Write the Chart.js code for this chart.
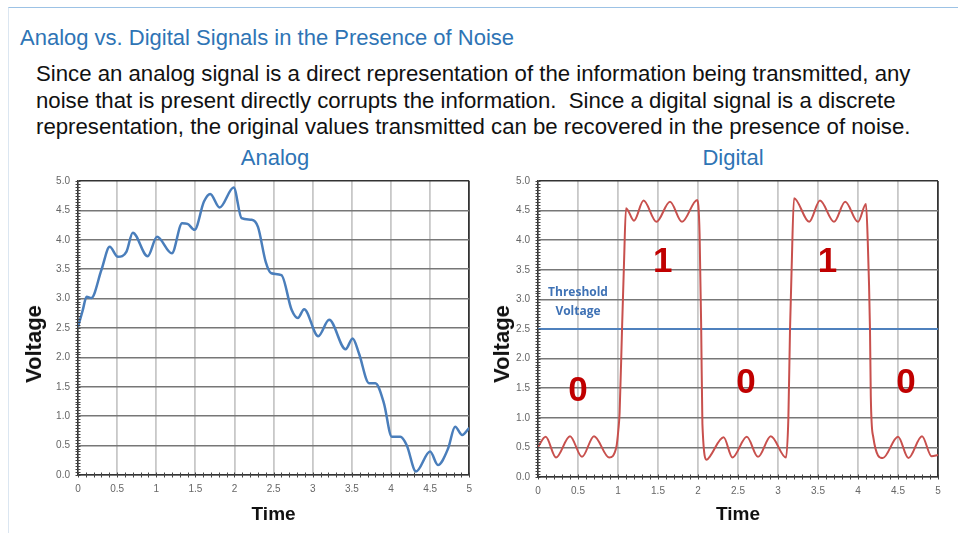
<!DOCTYPE html>
<html lang="en">
<head>
<meta charset="UTF-8">
<title>Analog vs. Digital Signals in the Presence of Noise</title>
<style>
  body { margin: 0; width: 958px; height: 533px; background: #fff; font-family: Arial, "Liberation Sans", sans-serif; overflow: hidden; position: relative; }
  .frame { position: absolute; left: 8px; top: 7px; right: 0; bottom: 0; border-top: 1px solid #9cc2e5; border-left: 1px solid #dbe6f1; }
  h1 { position: absolute; left: 20px; top: 25px; margin: 0; font-size: 22px; font-weight: normal; color: #2e74b5; white-space: nowrap; }
  .text { position: absolute; left: 36px; top: 61px; margin: 0; font-size: 22.2px; line-height: 26.5px; color: #111; white-space: nowrap; }
  .ctitle { position: absolute; top: 145px; font-size: 22px; color: #2e74b5; transform: translateX(-50%); }
  .ylab { position: absolute; top: 344px; font-size: 22px; font-weight: bold; color: #111; transform: translate(-50%, -50%) rotate(-90deg); white-space: nowrap; }
  canvas { position: absolute; }
</style>
</head>
<body>
<div class="frame"></div>
<h1>Analog vs. Digital Signals in the Presence of Noise</h1>
<p class="text">Since an analog signal is a direct representation of the information being transmitted, any<br>noise that is present directly corrupts the information.&nbsp; Since a digital signal is a discrete<br>representation, the original values transmitted can be recovered in the presence of noise.</p>
<div class="ctitle" style="left:275px">Analog</div>
<div class="ctitle" style="left:733px">Digital</div>
<canvas id="analog" width="480" height="393" style="left:0;top:140px"></canvas>
<canvas id="digital" width="478" height="393" style="left:480px;top:140px"></canvas>
<div class="ylab" style="left:34px">Voltage</div>
<div class="ylab" style="left:502px">Voltage</div>

<script src="https://cdn.jsdelivr.net/npm/chart.js"></script>
<script>
// values
const analogTime = [0, 0.06, 0.11, 0.17, 0.30, 0.405, 0.51, 0.62, 0.70, 0.89, 1.01, 1.20, 1.33, 1.40, 1.49, 1.61, 1.69, 1.81, 1.99, 2.09, 2.22, 2.30, 2.40, 2.47, 2.60, 2.73, 2.81, 2.89, 3.07, 3.21, 3.42, 3.51, 3.59, 3.72, 3.80, 3.91, 4.01, 4.12, 4.20, 4.32, 4.50, 4.60, 4.73, 4.82, 4.91, 5.0];
const analogVolt = [2.52, 2.80, 3.03, 3.01, 3.49, 3.88, 3.71, 3.80, 4.12, 3.72, 4.05, 3.77, 4.28, 4.27, 4.17, 4.65, 4.78, 4.55, 4.89, 4.37, 4.34, 4.22, 3.62, 3.43, 3.40, 2.81, 2.67, 2.82, 2.36, 2.64, 2.14, 2.32, 2.07, 1.56, 1.56, 1.22, 0.65, 0.65, 0.51, 0.06, 0.40, 0.17, 0.45, 0.82, 0.68, 0.80];

const digitalTime = [0, 0.096, 0.225, 0.40, 0.55, 0.70, 0.89, 0.98, 1.004, 1.02, 1.05, 1.075, 1.10, 1.20, 1.32, 1.48, 1.65, 1.80, 1.99, 2.02, 2.04, 2.055, 2.11, 2.15, 2.32, 2.43, 2.61, 2.75, 2.91, 3.10, 3.13, 3.15, 3.17, 3.20, 3.39, 3.525, 3.70, 3.84, 4.00, 4.10, 4.12, 4.15, 4.16, 4.19, 4.31, 4.50, 4.63, 4.80, 4.92, 5.0];
const digitalVolt = [0.51, 0.68, 0.33, 0.69, 0.34, 0.69, 0.33, 0.51, 0.79, 1.08, 2.48, 3.61, 4.54, 4.33, 4.67, 4.31, 4.65, 4.31, 4.68, 4.10, 2.50, 0.90, 0.29, 0.35, 0.67, 0.33, 0.68, 0.34, 0.69, 0.33, 1.02, 2.48, 3.50, 4.71, 4.31, 4.67, 4.31, 4.65, 4.31, 4.61, 4.06, 2.48, 1.36, 0.68, 0.32, 0.68, 0.32, 0.69, 0.35, 0.37];

const thresholdTime = [0, 5];
const thresholdVolt = [2.5, 2.5];

const bitText = ['0', '1', '0', '1', '0'];
const bitTime = [0.5, 1.56, 2.6, 3.62, 4.6];
const bitVolt = [1.45, 3.63, 1.59, 3.63, 1.59];

const thresholdText = ['Threshold', 'Voltage'];
const thresholdTextTime = 0.5;
const thresholdTextVolt = [3.12, 2.80];

const xTicks = [0, 0.5, 1, 1.5, 2, 2.5, 3, 3.5, 4, 4.5, 5];
const yTicks = [0, 0.5, 1, 1.5, 2, 2.5, 3, 3.5, 4, 4.5, 5];

const toPoints = (xs, ys) => xs.map((x, i) => ({ x: x, y: ys[i] }));

// small ticks along the left and bottom axes
const minorTicks = {
    id: 'minorTicks',
    afterDraw(chart) {
        const { ctx, chartArea, scales: { x, y } } = chart;
        ctx.save();
        ctx.strokeStyle = '#444';
        ctx.lineWidth = 1;
        ctx.beginPath();
        for (let i = 0; i <= 100; i++) {
            const py = Math.round(y.getPixelForValue(i * 0.05)) + 0.5;
            ctx.moveTo(chartArea.left - 2.5, py);
            ctx.lineTo(chartArea.left + 2.5, py);
        }
        for (let i = 0; i <= 50; i++) {
            const px = Math.round(x.getPixelForValue(i * 0.1)) + 0.5;
            ctx.moveTo(px, chartArea.bottom - 2.5);
            ctx.lineTo(px, chartArea.bottom + 2.5);
        }
        ctx.stroke();
        ctx.restore();
    }
};

// the 0 / 1 labels and the threshold caption
const digitalLabels = {
    id: 'digitalLabels',
    afterDatasetsDraw(chart) {
        const { ctx, scales: { x, y } } = chart;
        ctx.save();
        ctx.textAlign = 'center';
        ctx.textBaseline = 'middle';
        ctx.fillStyle = '#c00000';
        ctx.font = 'bold 35px Arial, "Liberation Sans", sans-serif';
        bitText.forEach((t, i) => {
            ctx.fillText(t, x.getPixelForValue(bitTime[i]), y.getPixelForValue(bitVolt[i]));
        });
        ctx.fillStyle = '#3f72b5';
        ctx.font = 'bold 12px "Open Sans", sans-serif';
        thresholdText.forEach((t, i) => {
            ctx.fillText(t, x.getPixelForValue(thresholdTextTime), y.getPixelForValue(thresholdTextVolt[i]));
        });
        ctx.restore();
    }
};

function makeChart(id, datasets, pad, yWidth, xHeight, plugins) {
    return new Chart(document.getElementById(id), {
        type: 'line',
        data: { datasets: datasets },
        options: {
            responsive: false,
            animation: false,
            devicePixelRatio: 1,
            layout: { padding: pad },
            plugins: { legend: { display: false }, tooltip: { enabled: false } },
            elements: { point: { radius: 0 } },
            scales: {
                x: {
                    type: 'linear',
                    min: 0,
                    max: 5,
                    afterBuildTicks: s => { s.ticks = xTicks.map(v => ({ value: v })); },
                    afterFit: s => { s.height = xHeight; },
                    ticks: { callback: v => String(v), font: { size: 10 }, color: '#666', padding: 8, autoSkip: false, maxRotation: 0 },
                    grid: { color: c => c.tick && c.tick.value === 5 ? '#333' : '#c8c8c8', lineWidth: 1.8, drawTicks: false },
                    border: { color: '#333', width: 1.5 },
                    title: { display: true, text: 'Time', font: { size: 19, weight: 'bold' }, color: '#111', padding: 0 }
                },
                y: {
                    type: 'linear',
                    min: 0,
                    max: 5,
                    afterBuildTicks: s => { s.ticks = yTicks.map(v => ({ value: v })); },
                    afterFit: s => { s.width = yWidth; },
                    ticks: { callback: v => v.toFixed(1), font: { size: 10 }, color: '#666', padding: 8 },
                    grid: { color: c => c.tick && c.tick.value === 5 ? '#333' : '#777', lineWidth: 1.5, drawTicks: false },
                    border: { color: '#333', width: 1.5 }
                }
            }
        },
        plugins: plugins
    });
}

makeChart('analog', [{
    data: toPoints(analogTime, analogVolt),
    borderColor: '#4a7ebb',
    borderWidth: 2.5,
    cubicInterpolationMode: 'monotone'
}], { left: 19, top: 41, right: 7, bottom: 7 }, 59, 51, [minorTicks]);

makeChart('digital', [{
    data: toPoints(digitalTime, digitalVolt),
    borderColor: '#c8504d',
    borderWidth: 2,
    cubicInterpolationMode: 'monotone'
}, {
    data: toPoints(thresholdTime, thresholdVolt),
    borderColor: '#4f81bd',
    borderWidth: 2,
    tension: 0
}], { left: 5, top: 41, right: 20, bottom: 7 }, 53, 49, [minorTicks, digitalLabels]);
</script>
</body>
</html>
